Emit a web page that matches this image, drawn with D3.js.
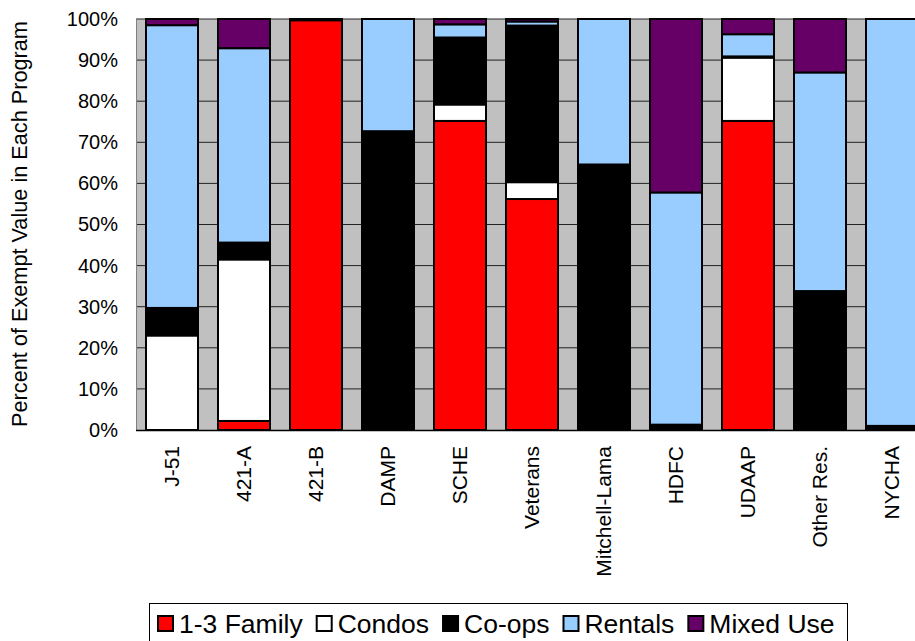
<!DOCTYPE html>
<html>
<head>
<meta charset="utf-8">
<script src="https://cdn.jsdelivr.net/npm/d3@7"></script>
<style>
  html, body { margin: 0; padding: 0; background: #fff; overflow: hidden; }
  svg { display: block; font-family: "Liberation Sans", Arial, sans-serif; }
</style>
</head>
<body>
<svg id="chart" width="915" height="641"></svg>
<script>
const categories = ["J-51","421-A","421-B","DAMP","SCHE","Veterans","Mitchell-Lama","HDFC","UDAAP","Other Res.","NYCHA"];
const seriesNames = ["1-3 Family","Condos","Co-ops","Rentals","Mixed Use"];
const family  = [0,    2.2,  99.7, 0,    75.2, 56.2, 0,    0,    75.2, 0,    0];
const condos  = [23.0, 39.3, 0,    0,    4.0,  4.1,  0,    0,    15.4, 0,    0];
const coops   = [6.7,  4.1,  0.3,  72.7, 16.3, 38.1, 64.6, 1.3,  0.3,  33.8, 1.0];
const rentals = [68.8, 47.3, 0,    27.3, 3.2,  1.0,  35.4, 56.5, 5.4,  53.2, 99.0];
const mixed   = [1.5,  7.1,  0,    0,    1.3,  0.6,  0,    42.2, 3.7,  13.0, 0];
const yTicks  = [0,10,20,30,40,50,60,70,80,90,100];
const colors  = ["#FF0000","#FFFFFF","#000000","#99CCFF","#660066"];

const seriesValues = [family, condos, coops, rentals, mixed];
const table = categories.map((c, i) => {
  const row = { cat: c };
  seriesNames.forEach((s, j) => row[s] = seriesValues[j][i]);
  return row;
});

const svg = d3.select("#chart");
const pLeft = 136, pRight = 928, pTop = 19, pBottom = 430;

const x = d3.scaleBand().domain(categories).range([pLeft, pRight])
  .paddingInner(20/72).paddingOuter(10/72);
const y = d3.scaleLinear().domain([0, 100]).range([pBottom, pTop]);

// plot background
svg.append("rect").attr("x", pLeft).attr("y", pTop)
  .attr("width", pRight - pLeft).attr("height", pBottom - pTop)
  .attr("fill", "#C0C0C0");

// gridlines
svg.append("g").selectAll("line").data(yTicks.filter(d => d > 0)).join("line")
  .attr("x1", pLeft).attr("x2", pRight)
  .attr("y1", d => y(d)).attr("y2", d => y(d))
  .attr("stroke", "#222").attr("stroke-width", 1);

// left border of plot
svg.append("line").attr("x1", pLeft + 0.5).attr("x2", pLeft + 0.5)
  .attr("y1", pTop).attr("y2", pBottom).attr("stroke", "#808080").attr("stroke-width", 1);

// stacked bars
const stack = d3.stack().keys(seriesNames);
const stacked = stack(table);
const groups = svg.append("g").selectAll("g").data(stacked).join("g")
  .attr("fill", (d, i) => colors[i]);
groups.selectAll("rect").data(d => d.filter(p => (p[1] - p[0]) > 0)).join("rect")
  .attr("x", d => x(d.data.cat))
  .attr("width", x.bandwidth())
  .attr("y", d => y(d[1]))
  .attr("height", d => y(d[0]) - y(d[1]))
  .attr("stroke", "#000").attr("stroke-width", 2);

// bottom axis line
svg.append("line").attr("x1", pLeft).attr("x2", pRight)
  .attr("y1", pBottom + 0.5).attr("y2", pBottom + 0.5)
  .attr("stroke", "#000").attr("stroke-width", 1.5);

// y axis labels
const yAxis = d3.axisLeft(y).tickValues(yTicks).tickFormat(d => d + "%").tickSize(0).tickPadding(18);
const gy = svg.append("g").attr("transform", `translate(${pLeft},0)`).call(yAxis);
gy.select(".domain").remove();
gy.selectAll("text").attr("font-size", 20).attr("fill", "#000")
  .attr("font-family", "'Liberation Sans', Arial, sans-serif");

// x axis labels
const xAxis = d3.axisBottom(x).tickSize(0).tickPadding(0);
const gx = svg.append("g").attr("transform", `translate(0,${pBottom})`).call(xAxis);
gx.select(".domain").remove();
gx.selectAll("text")
  .attr("font-size", 21).attr("fill", "#000")
  .attr("font-family", "'Liberation Sans', Arial, sans-serif")
  .attr("text-anchor", "end")
  .attr("transform", "translate(0,16) rotate(-90)")
  .attr("x", 0).attr("y", 0).attr("dy", "0.35em");

// y title
svg.append("text")
  .attr("transform", "translate(27,224) rotate(-90)")
  .attr("text-anchor", "middle")
  .attr("font-size", 21.7)
  .attr("fill", "#000")
  .text("Percent of Exempt Value in Each Program");

// legend
const lg = svg.append("g");
lg.append("rect").attr("x", 149.5).attr("y", 603.5).attr("width", 698).attr("height", 60)
  .attr("fill", "#fff").attr("stroke", "#000").attr("stroke-width", 1);
let cx = 158;
seriesNames.forEach((name, i) => {
  lg.append("rect").attr("x", cx).attr("y", 616).attr("width", 15).attr("height", 15)
    .attr("fill", colors[i]).attr("stroke", "#000").attr("stroke-width", 2);
  const t = lg.append("text").attr("x", cx + 21).attr("y", 623.5).attr("dy", "0.35em")
    .attr("font-size", 26.5).attr("fill", "#000").text(name);
  cx = cx + 21 + t.node().getComputedTextLength() + 14;
});
</script>
</body>
</html>
